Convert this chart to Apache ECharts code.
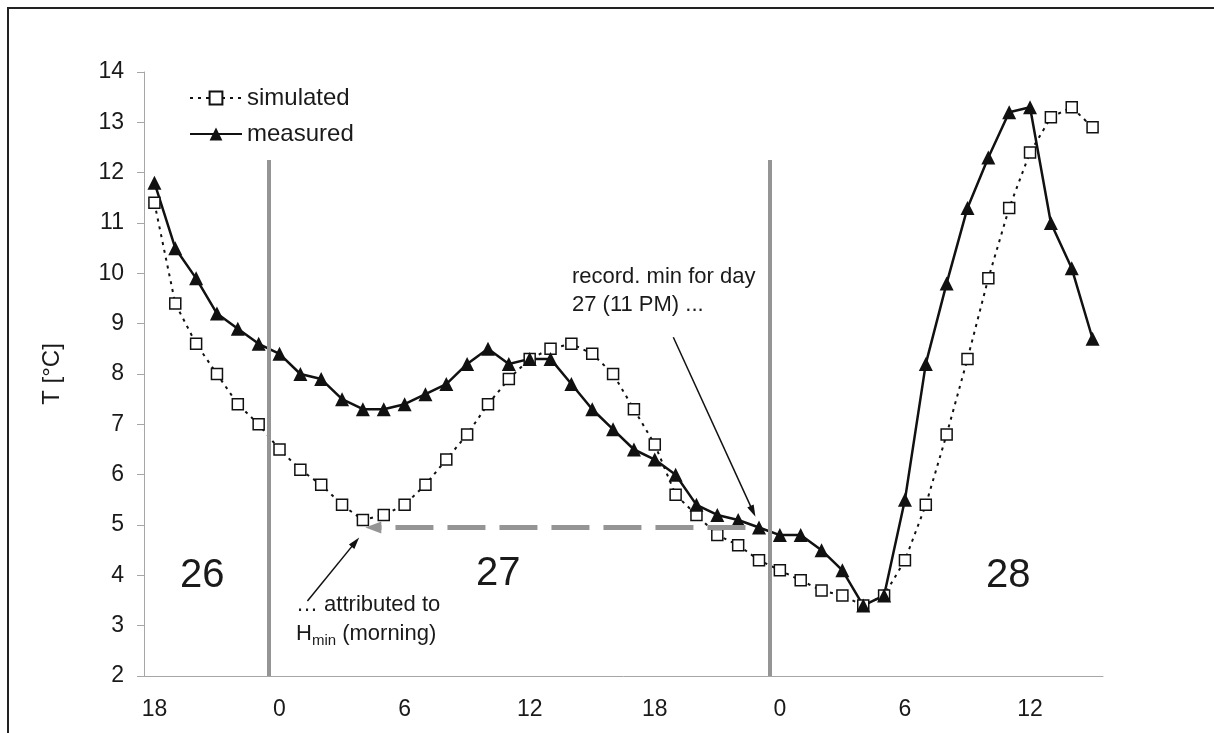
<!DOCTYPE html>
<html>
<head>
<meta charset="utf-8">
<script src="https://cdn.jsdelivr.net/npm/echarts/dist/echarts.min.js"></script>
<style>
html, body { margin: 0; padding: 0; background: #ffffff; }
#chart { width: 1214px; height: 733px; }
</style>
</head>
<body>
<div id="chart"></div>
<script>
// hourly samples: 18h of day 26 .. 15h of day 28
var hours = ['18', '19', '20', '21', '22', '23',
  '0', '1', '2', '3', '4', '5', '6', '7', '8', '9', '10', '11',
  '12', '13', '14', '15', '16', '17', '18', '19', '20', '21', '22', '23',
  '0', '1', '2', '3', '4', '5', '6', '7', '8', '9', '10', '11',
  '12', '13', '14', '15'];

var simulated = [11.4, 9.4, 8.6, 8.0, 7.4, 7.0,
  6.5, 6.1, 5.8, 5.4, 5.1, 5.2, 5.4, 5.8, 6.3, 6.8, 7.4, 7.9,
  8.3, 8.5, 8.6, 8.4, 8.0, 7.3, 6.6, 5.6, 5.2, 4.8, 4.6, 4.3,
  4.1, 3.9, 3.7, 3.6, 3.4, 3.6, 4.3, 5.4, 6.8, 8.3, 9.9, 11.3,
  12.4, 13.1, 13.3, 12.9];

var measured = [11.8, 10.5, 9.9, 9.2, 8.9, 8.6,
  8.4, 8.0, 7.9, 7.5, 7.3, 7.3, 7.4, 7.6, 7.8, 8.2, 8.5, 8.2,
  8.3, 8.3, 7.8, 7.3, 6.9, 6.5, 6.3, 6.0, 5.4, 5.2, 5.1, 4.95,
  4.8, 4.8, 4.5, 4.1, 3.4, 3.6, 5.5, 8.2, 9.8, 11.3, 12.3, 13.2,
  13.3, 11.0, 10.1, 8.7];

var yMin = 2, yMax = 14, yStep = 1;

// midnight boundaries, in sample-index units
var dayBreaks = [5.5, 29.5];
var dayNames = ['26', '27', '28'];

var font = "'Liberation Sans', Arial, sans-serif";
var ink = '#1a1a1a';
var axisGray = '#a6a6a6';

var chart = echarts.init(document.getElementById('chart'));

var option = {
  animation: false,
  backgroundColor: '#ffffff',
  textStyle: { fontFamily: font, color: ink },
  grid: {
    left: 144,
    right: 111,
    top: 72,
    bottom: 57,
    outerBoundsMode: 'none'
  },
  legend: {
    data: ['simulated', 'measured'],
    orient: 'vertical',
    left: 184,
    top: 81,
    itemWidth: 52,
    itemHeight: 16,
    itemGap: 12,
    textStyle: { fontSize: 24, color: ink, fontFamily: font }
  },
  xAxis: [
    {
      type: 'category',
      data: hours,
      boundaryGap: true,
      axisLine: { onZero: false, lineStyle: { color: axisGray, width: 1 } },
      axisTick: { interval: 5, length: 7, lineStyle: { color: axisGray } },
      axisLabel: { interval: 5, fontSize: 23, color: ink, margin: 22, fontFamily: font },
      splitLine: { show: false }
    },
    {
      type: 'value',
      show: false,
      min: -0.5,
      max: hours.length - 0.5
    }
  ],
  yAxis: {
    type: 'value',
    min: yMin,
    max: yMax,
    interval: yStep,
    name: 'T [°C]',
    nameLocation: 'middle',
    nameGap: 80,
    nameTextStyle: { fontSize: 24, color: ink, fontFamily: font },
    axisLine: { show: true, onZero: false, lineStyle: { color: axisGray, width: 1 } },
    axisTick: { show: true, length: 7, lineStyle: { color: axisGray } },
    axisLabel: { fontSize: 23, color: ink, margin: 20, fontFamily: font },
    splitLine: { show: false }
  },
  series: [
    {
      name: 'day breaks',
      type: 'line',
      xAxisIndex: 1,
      data: [],
      silent: true,
      markLine: {
        silent: true,
        symbol: ['none', 'none'],
        label: { show: false },
        lineStyle: { color: '#959595', width: 4, type: 'solid' },
        data: dayBreaks.map(function (x) {
          return [{ coord: [x, yMin] }, { coord: [x, 12.25] }];
        })
      }
    },
    {
      name: 'shift arrow',
      type: 'line',
      xAxisIndex: 1,
      data: [],
      silent: true,
      markLine: {
        silent: true,
        symbol: ['none', 'triangle'],
        symbolSize: [12, 16],
        label: { show: false },
        lineStyle: { color: '#959595', width: 5, type: [38, 14] },
        data: [[{ coord: [28.35, 4.95] }, { coord: [10.5, 4.95] }]]
      }
    },
    {
      name: 'notes',
      type: 'line',
      xAxisIndex: 1,
      data: [],
      silent: true,
      markLine: {
        silent: true,
        symbol: ['none', 'triangle'],
        symbolSize: [7, 12],
        label: { show: false },
        lineStyle: { color: '#111111', width: 1.5, type: 'solid' },
        data: [
          [{ coord: [7.34, 3.49] }, { coord: [9.64, 4.66] }],
          [{ coord: [24.89, 8.73] }, { coord: [28.71, 5.27] }]
        ]
      }
    },
    {
      name: 'simulated',
      type: 'line',
      data: simulated,
      symbol: 'rect',
      symbolSize: 11,
      showSymbol: true,
      showAllSymbol: true,
      lineStyle: { color: '#111111', width: 2, type: [3, 5] },
      itemStyle: { color: '#ffffff', borderColor: '#111111', borderWidth: 1.5 }
    },
    {
      name: 'measured',
      type: 'line',
      data: measured,
      symbol: 'triangle',
      symbolSize: 14,
      showSymbol: true,
      showAllSymbol: true,
      lineStyle: { color: '#111111', width: 2.5, type: 'solid' },
      itemStyle: { color: '#111111', borderWidth: 0 }
    }
  ],
  graphic: [
    {
      type: 'rect',
      silent: true,
      shape: { x: 8, y: 8, width: 1400, height: 900 },
      style: { fill: 'none', stroke: '#222222', lineWidth: 2 }
    },
    {
      type: 'text', left: 180, top: 556, silent: true,
      style: { text: dayNames[0], font: '40px ' + font, fill: ink }
    },
    {
      type: 'text', left: 476, top: 554, silent: true,
      style: { text: dayNames[1], font: '40px ' + font, fill: ink }
    },
    {
      type: 'text', left: 986, top: 556, silent: true,
      style: { text: dayNames[2], font: '40px ' + font, fill: ink }
    },
    {
      type: 'text', left: 572, top: 263, silent: true,
      style: {
        text: 'record. min for day\n27 (11 PM) ...',
        font: '22px ' + font,
        lineHeight: 28,
        fill: ink
      }
    },
    {
      type: 'text', left: 296, top: 594, silent: true,
      style: {
        text: '{n|… attributed to}\n{n|H}{s|min}{n| (morning)}',
        fill: ink,
        rich: {
          n: { fontSize: 22, fontFamily: font, lineHeight: 29, fill: ink },
          s: { fontSize: 15, fontFamily: font, lineHeight: 20, verticalAlign: 'bottom', fill: ink }
        }
      }
    }
  ]
};

chart.setOption(option);
</script>
</body>
</html>
